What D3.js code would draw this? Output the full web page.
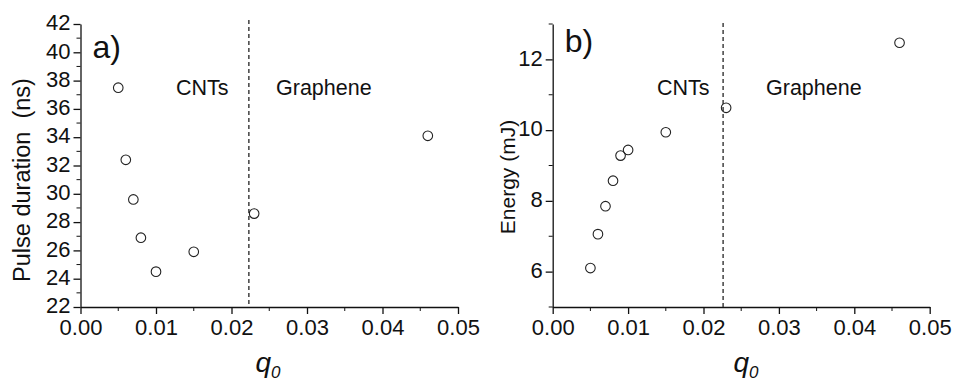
<!DOCTYPE html>
<html><head><meta charset="utf-8">
<script src="https://cdn.jsdelivr.net/npm/d3@7"></script>
<style>
body{margin:0;background:#fff;}
svg{display:block;}
text{font-family:"Liberation Sans",Arial,sans-serif;fill:#111;}
</style></head>
<body>
<svg id="c" width="954" height="385"></svg>
<script>
// Panel a: pulse duration vs q0
const qA = [0.005, 0.006, 0.007, 0.008, 0.010, 0.015, 0.023, 0.046];
const pulseA = [37.5, 32.4, 29.6, 26.9, 24.5, 25.9, 28.6, 34.1];
// Panel b: energy vs q0
const qB = [0.005, 0.006, 0.007, 0.008, 0.009, 0.010, 0.015, 0.023, 0.046];
const energyB = [6.1, 7.06, 7.85, 8.57, 9.28, 9.44, 9.94, 10.63, 12.47];
const xTicks = [0.00, 0.01, 0.02, 0.03, 0.04, 0.05];
const yTicksA = [22, 24, 26, 28, 30, 32, 34, 36, 38, 40, 42];
const yTicksB = [6, 8, 10, 12];
const dividerA = 0.0223, dividerB = 0.0226;

const svg = d3.select("#c");
const ink = "#111";

function panel(o) {
  const g = svg.append("g");
  const x = d3.scaleLinear().domain([0, 0.05]).range([o.x0, o.x1]);
  const y = d3.scaleLinear().domain(o.ydom).range([307, 24]);
  // minor ticks
  const xMinor = d3.range(0.005, 0.05, 0.01);
  g.selectAll(".xm").data(xMinor).join("line")
    .attr("x1", d => x(d)).attr("x2", d => x(d)).attr("y1", 307).attr("y2", 311)
    .attr("stroke", ink).attr("stroke-width", 1);
  g.selectAll(".ym").data(o.yMinor).join("line")
    .attr("x1", o.x0 - 4).attr("x2", o.x0).attr("y1", d => y(d)).attr("y2", d => y(d))
    .attr("stroke", ink).attr("stroke-width", 1);
  const xa = g.append("g").attr("transform", "translate(0,307)")
    .call(d3.axisBottom(x).tickValues(xTicks).tickFormat(d3.format(".2f")).tickSize(7).tickSizeOuter(0).tickPadding(5));
  const ya = g.append("g").attr("transform", `translate(${o.x0},0)`)
    .call(d3.axisLeft(y).tickValues(o.yTicks).tickFormat(d3.format("d")).tickSize(7).tickSizeOuter(0).tickPadding(3));
  [xa, ya].forEach(a => {
    a.selectAll("path,line").attr("stroke", ink).attr("stroke-width", 1.3);
    a.selectAll("text").style("font-size", "22px").style("fill", ink);
  });
  ya.selectAll("text").attr("dy", "0.26em");
  // dashed divider
  g.append("line").attr("x1", x(o.divider)).attr("x2", x(o.divider))
    .attr("y1", o.dashTop).attr("y2", 307)
    .attr("stroke", "#333").attr("stroke-width", 1.4).attr("stroke-dasharray", "4,3");
  // points
  g.selectAll("circle").data(o.q.map((q, i) => [q, o.v[i]])).join("circle")
    .attr("cx", d => x(d[0])).attr("cy", d => y(d[1])).attr("r", 4.8)
    .attr("fill", "none").attr("stroke", "#222").attr("stroke-width", 1.1);
  // labels
  g.append("text").attr("x", o.x0 + 12).attr("y", o.panelY).text(o.tag).style("font-size", "32px");
  g.append("text").attr("x", o.cntX).attr("y", 95).text("CNTs").style("font-size", "21.5px");
  g.append("text").attr("x", o.grX).attr("y", 95).text("Graphene").style("font-size", "21.5px");
  g.append("text").attr("transform", `translate(${o.ylabX},${o.ylabY}) rotate(-90)`)
    .attr("text-anchor", "middle").style("white-space", "pre").text(o.ylabel).style("font-size", o.ylabSize);
  const ql = g.append("text").attr("x", o.qX).attr("y", 372).attr("text-anchor", "middle")
    .style("font-size", "28px").style("font-style", "italic");
  ql.append("tspan").text("q");
  ql.append("tspan").text("0").attr("dy", 6).style("font-size", "17px");
}

panel({x0: 80.5, x1: 458, ydom: [22, 42], yTicks: yTicksA, yMinor: d3.range(23, 42, 2),
  q: qA, v: pulseA, divider: dividerA, dashTop: 20, tag: "a)", panelY: 58,
  cntX: 176, grX: 276, ylabel: "Pulse duration  (ns)", ylabX: 30, ylabY: 180, ylabSize: "23.5px", qX: 268});
panel({x0: 552.7, x1: 929.7, ydom: [5, 13], yTicks: yTicksB, yMinor: [5, 7, 9, 11, 13],
  q: qB, v: energyB, divider: dividerB, dashTop: 23, tag: "b)", panelY: 52,
  cntX: 657, grX: 766, ylabel: "Energy (mJ)", ylabX: 515, ylabY: 177, ylabSize: "21px", qX: 746});
</script>
</body></html>
